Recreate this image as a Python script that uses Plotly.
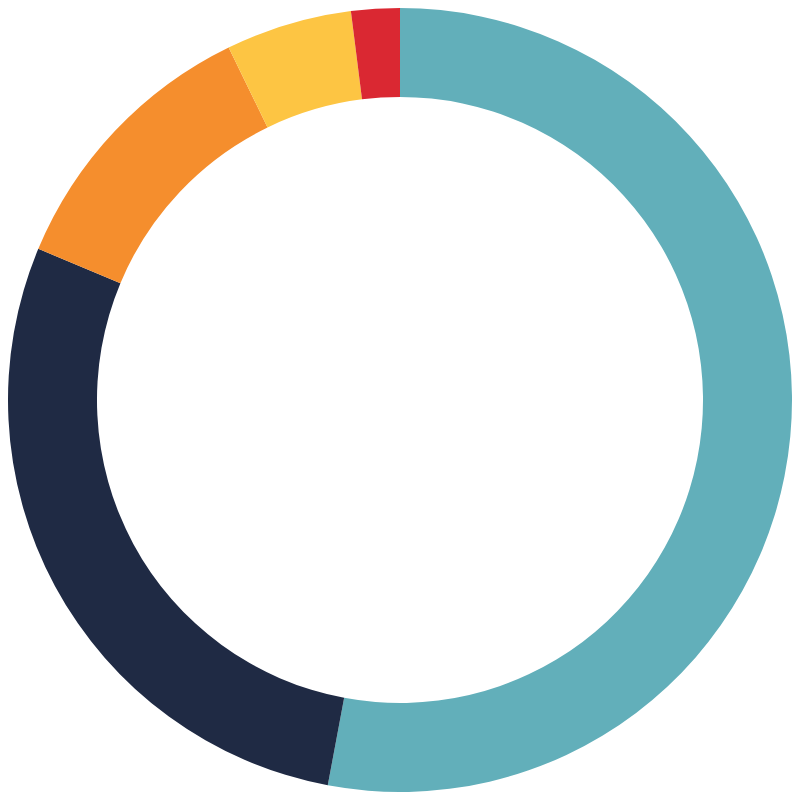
import plotly.graph_objects as go

labels = ["A", "B", "C", "D", "E"]
values = [52.95, 28.35, 11.5, 5.2, 2.0]
colors = ["#62AFBA", "#1F2A44", "#F58E2D", "#FDC543", "#DA2832"]

fig = go.Figure(go.Pie(
    labels=labels,
    values=values,
    hole=0.773,
    sort=False,
    direction="clockwise",
    rotation=0,
    marker=dict(colors=colors, line=dict(width=0)),
    textinfo="none",
    hoverinfo="label+percent",
    domain=dict(x=[0, 1], y=[0, 1]),
))
fig.update_layout(
    width=784, height=784,
    margin=dict(l=0, r=0, t=0, b=0),
    showlegend=False,
    paper_bgcolor="white",
    plot_bgcolor="white",
)
fig.write_html("out.html")
